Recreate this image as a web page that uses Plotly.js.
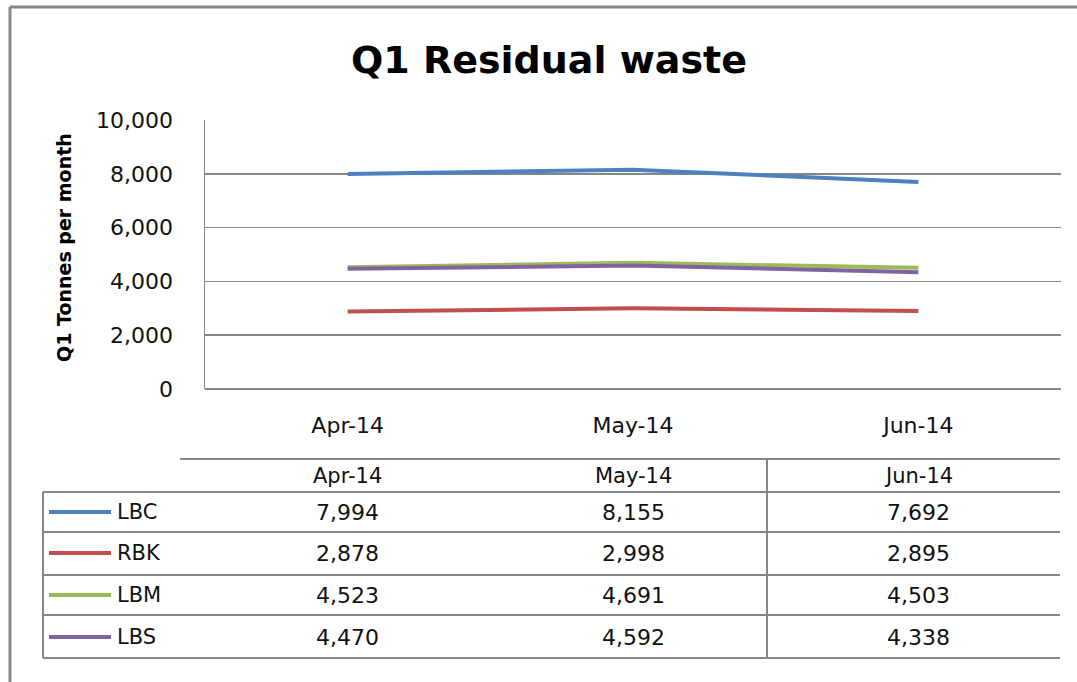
<!DOCTYPE html>
<html>
<head>
<meta charset="utf-8">
<script src="https://cdn.plot.ly/plotly-3.0.1.min.js"></script>
<style>html,body{margin:0;padding:0;background:#fff;}#chart{width:1077px;height:682px;}</style>
</head>
<body>
<div id="chart"></div>
<script>
const months = ["Apr-14", "May-14", "Jun-14"];
const seriesNames = ["LBC", "RBK", "LBM", "LBS"];
const LBC = [7994, 8155, 7692];
const RBK = [2878, 2998, 2895];
const LBM = [4523, 4691, 4503];
const LBS = [4470, 4592, 4338];
const colors = ["#4F81BD", "#C0504D", "#9BBB59", "#8064A2"];
const yTicks = [0, 2000, 4000, 6000, 8000, 10000];

const allSeries = [LBC, RBK, LBM, LBS];
const W = 1077, H = 682;
const plotL = 205, plotR = 1061, plotT = 120, plotB = 389;
const pw = plotR - plotL, ph = plotB - plotT;
const px = v => (v - plotL) / pw;
const py = v => (plotB - v) / ph;
const fmt = v => v.toLocaleString("en-US");
const gridCol = "#868686";
const font = "DejaVu Sans, Verdana, sans-serif";

const traces = allSeries.map((vals, i) => ({
  type: "scatter", mode: "lines", name: seriesNames[i],
  x: months, y: vals,
  line: {color: colors[i], width: 4},
  hoverinfo: "x+y+name"
}));

const shapes = [];
const annotations = [];
// outer frame (top and left)
shapes.push({type:"line", xref:"paper", yref:"paper", x0:px(10), x1:px(W+5), y0:py(7), y1:py(7), line:{color:"#888", width:3}});
shapes.push({type:"line", xref:"paper", yref:"paper", x0:px(10), x1:px(10), y0:py(7), y1:py(H+5), line:{color:"#888", width:3}});

// data table lines
const rowLines = [492, 532, 575, 615, 658];
shapes.push({type:"line", xref:"paper", yref:"paper", x0:px(180), x1:px(1060), y0:py(459), y1:py(459), line:{color:gridCol, width:2}});
rowLines.forEach(y => shapes.push({type:"line", xref:"paper", yref:"paper", x0:px(43), x1:px(1060), y0:py(y), y1:py(y), line:{color:gridCol, width:2}}));
shapes.push({type:"line", xref:"paper", yref:"paper", x0:px(43), x1:px(43), y0:py(492), y1:py(658), line:{color:gridCol, width:2}});
shapes.push({type:"line", xref:"paper", yref:"paper", x0:px(767), x1:px(767), y0:py(459), y1:py(658), line:{color:gridCol, width:2}});

// header
months.forEach((m, j) => annotations.push({xref:"x", yref:"paper", x:j, y:py(476), text:m, showarrow:false, font:{family:font, size:21, color:"#111"}, xanchor:"center", yanchor:"middle"}));
const rowCenters = [512, 553, 595, 637];
allSeries.forEach((vals, i) => {
  shapes.push({type:"line", xref:"paper", yref:"paper", x0:px(49), x1:px(111), y0:py(rowCenters[i]), y1:py(rowCenters[i]), line:{color:colors[i], width:4}});
  annotations.push({xref:"paper", yref:"paper", x:px(115), y:py(rowCenters[i]), text:seriesNames[i], showarrow:false, font:{family:font, size:21, color:"#111"}, xanchor:"left", yanchor:"middle"});
  vals.forEach((v, j) => annotations.push({xref:"x", yref:"paper", x:j, y:py(rowCenters[i]), text:fmt(v), showarrow:false, font:{family:font, size:22, color:"#111"}, xanchor:"center", yanchor:"middle"}));
});

// y axis title
annotations.push({xref:"paper", yref:"paper", x:px(64), y:py(248), text:"<b>Q1 Tonnes per month</b>", textangle:-90, showarrow:false, font:{family:font, size:19, color:"#000"}, xanchor:"center", yanchor:"middle"});

const layout = {
  width: W, height: H,
  margin: {l: plotL, r: W - plotR, t: plotT, b: H - plotB, pad: 0},
  paper_bgcolor: "#fff", plot_bgcolor: "#fff",
  showlegend: false,
  title: {text: "<b>Q1 Residual waste</b>", x: 549 / W, xref: "container", xanchor: "center", y: 1 - 60 / H, yref: "container", yanchor: "middle", font: {family: font, size: 38, color: "#000"}},
  xaxis: {
    type: "category", range: [-0.5, 2.5], showgrid: false, zeroline: false,
    showline: false, ticks: "", tickfont: {family: font, size: 22, color: "#111"}, ticklabelstandoff: 21
  },
  yaxis: {
    range: [0, 10000], tickvals: yTicks, ticktext: yTicks.map(fmt),
    showgrid: true, gridcolor: gridCol, gridwidth: 1.5,
    zeroline: true, zerolinecolor: gridCol, zerolinewidth: 1.5,
    showline: true, linecolor: gridCol, linewidth: 1.5, mirror: false,
    ticks: "", tickfont: {family: font, size: 22, color: "#111"}, ticklabelstandoff: 26
  },
  shapes: shapes,
  annotations: annotations
};
Plotly.newPlot("chart", traces, layout, {displayModeBar: false, staticPlot: true});
</script>
</body>
</html>
